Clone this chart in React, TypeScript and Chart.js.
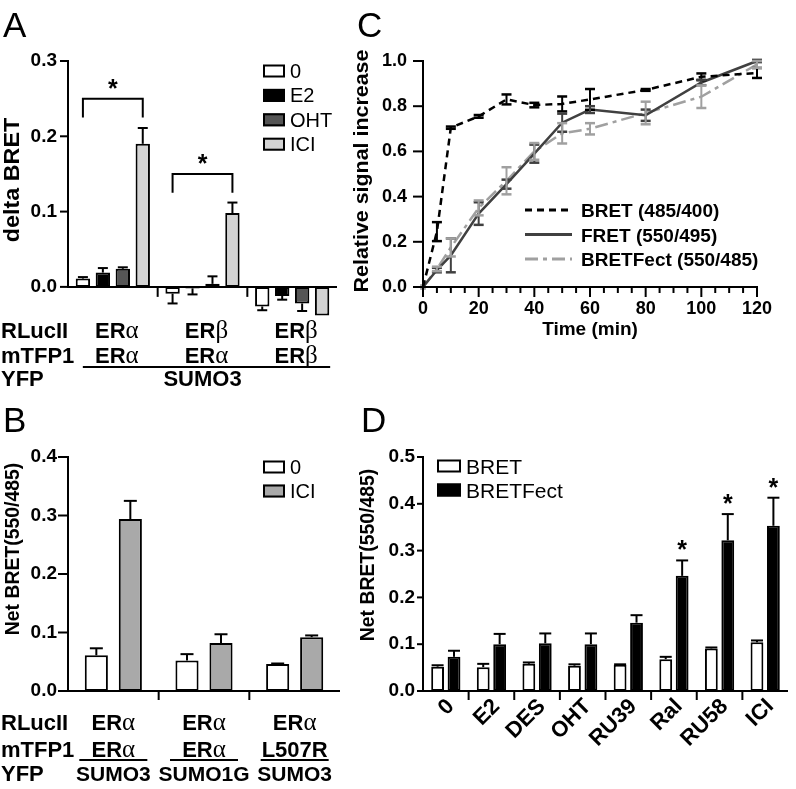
import React, { useEffect, useRef } from "react";
import { Chart, registerables } from "chart.js";

Chart.register(...registerables);

const SANS = "'Liberation Sans', Arial, Helvetica, sans-serif";
const SERIF = "'Liberation Serif', 'Times New Roman', serif";

// ---------------- Panel A data ----------------
const aCategories = ["ERα/ERα", "ERβ/ERα", "ERβ/ERβ"];
const aSeriesNames = ["0", "E2", "OHT", "ICI"];
const aValues0 = [0.011, -0.009, -0.026];
const aErrors0 = [0.002, 0.013, 0.005];
const aValuesE2 = [0.019, -0.002, -0.012];
const aErrorsE2 = [0.006, 0.008, 0.005];
const aValuesOHT = [0.024, 0.004, -0.022];
const aErrorsOHT = [0.002, 0.01, 0.01];
const aValuesICI = [0.19, 0.098, -0.038];
const aErrorsICI = [0.021, 0.014, 0.0];
const aRLucII = ["ERα", "ERβ", "ERβ"];
const aMTFP1 = ["ERα", "ERα", "ERβ"];
const aYFP = "SUMO3";
const aBracketGroups = [0, 1];
const aBracketLevels = [0.25, 0.15];
const aRowLabels = ["RLucII", "mTFP1", "YFP"];

// ---------------- Panel B data ----------------
const bCategories = ["SUMO3", "SUMO1G", "SUMO3 L507R"];
const bSeriesNames = ["0", "ICI"];
const bValues0 = [0.061, 0.052, 0.046];
const bErrors0 = [0.012, 0.011, 0.001];
const bValuesICI = [0.294, 0.082, 0.092];
const bErrorsICI = [0.031, 0.015, 0.003];
const bRLucII = ["ERα", "ERα", "ERα"];
const bMTFP1 = ["ERα", "ERα", "L507R"];
const bYFP = ["SUMO3", "SUMO1G", "SUMO3"];

// ---------------- Panel C data ----------------
const cTime = [0, 5, 10, 20, 30, 40, 50, 60, 80, 100, 120];
const cBRET = [0, 0.245, 0.705, 0.755, 0.83, 0.805, 0.81, 0.83, 0.872, 0.93, 0.947];
const cBRETErr = [0, 0.042, 0.005, 0.006, 0.022, 0.01, 0.033, 0.046, 0.004, 0.015, 0.022];
const cFRET = [0, 0.075, 0.14, 0.325, 0.455, 0.59, 0.727, 0.785, 0.76, 0.905, 1.0];
const cFRETErr = [0, 0.01, 0.075, 0.05, 0.02, 0.04, 0.04, 0.015, 0.025, 0.012, 0.005];
const cFect = [0, 0.08, 0.175, 0.35, 0.47, 0.6, 0.68, 0.7, 0.77, 0.842, 0.985];
const cFectErr = [0, 0.01, 0.04, 0.033, 0.06, 0.037, 0.045, 0.025, 0.05, 0.05, 0.015];
const cSeriesNames = ["BRET (485/400)", "FRET (550/495)", "BRETFect (550/485)"];

// ---------------- Panel D data ----------------
const dCategories = ["0", "E2", "DES", "OHT", "RU39", "Ral", "RU58", "ICI"];
const dSeriesNames = ["BRET", "BRETFect"];
const dBRET = [0.052, 0.051, 0.058, 0.054, 0.056, 0.068, 0.091, 0.104];
const dBRETErr = [0.003, 0.007, 0.003, 0.003, 0.001, 0.005, 0.002, 0.004];
const dFect = [0.073, 0.1, 0.102, 0.1, 0.146, 0.246, 0.322, 0.353];
const dFectErr = [0.013, 0.022, 0.021, 0.023, 0.016, 0.033, 0.056, 0.06];
const dStars = ["", "", "", "", "", "*", "*", "*"];

// ---------------- helpers ----------------
type Ctx = CanvasRenderingContext2D;

function seg(ctx: Ctx, pts: number[][], w = 2, color = "#000", dash: number[] = []) {
  ctx.save();
  ctx.beginPath();
  ctx.lineWidth = w;
  ctx.strokeStyle = color;
  ctx.setLineDash(dash);
  ctx.lineCap = "butt";
  ctx.lineJoin = "miter";
  pts.forEach((p, i) => (i ? ctx.lineTo(p[0], p[1]) : ctx.moveTo(p[0], p[1])));
  ctx.stroke();
  ctx.restore();
}

function txt(
  ctx: Ctx,
  s: string,
  x: number,
  y: number,
  font: string,
  align: CanvasTextAlign = "left",
  baseline: CanvasTextBaseline = "alphabetic",
  rot = 0,
  sx = 1
) {
  ctx.save();
  ctx.translate(x, y);
  if (rot) ctx.rotate(rot);
  if (sx !== 1) ctx.scale(sx, 1);
  ctx.font = font;
  ctx.textAlign = align;
  ctx.textBaseline = baseline;
  ctx.fillStyle = "#000";
  ctx.fillText(s, 0, 0);
  ctx.restore();
}

function greek(ctx: Ctx, s: string, cx: number, cy: number, size: number) {
  const parts: { t: string; g: boolean }[] = [];
  for (const ch of s) {
    const g = /[\u0370-\u03ff]/.test(ch);
    const last = parts[parts.length - 1];
    if (last && last.g === g) last.t += ch;
    else parts.push({ t: ch, g });
  }
  const fontOf = (g: boolean) => (g ? `${Math.round(size * 1.15)}px ${SERIF}` : `bold ${size}px ${SANS}`);
  let total = 0;
  const ws = parts.map((p) => {
    ctx.font = fontOf(p.g);
    const w = ctx.measureText(p.t).width;
    total += w;
    return w;
  });
  let x = cx - total / 2;
  const base = cy + size * 0.36;
  ctx.save();
  ctx.fillStyle = "#000";
  ctx.textAlign = "left";
  ctx.textBaseline = "alphabetic";
  parts.forEach((p, i) => {
    ctx.font = fontOf(p.g);
    ctx.fillText(p.t, x, base);
    x += ws[i];
  });
  ctx.restore();
}

function legendBox(ctx: Ctx, x: number, cy: number, w: number, h: number, fill: string) {
  ctx.save();
  ctx.fillStyle = fill;
  ctx.fillRect(x, cy - h / 2, w, h);
  ctx.lineWidth = 2;
  ctx.strokeStyle = "#000";
  ctx.strokeRect(x + 1, cy - h / 2 + 1, w - 2, h - 2);
  ctx.restore();
}

function barErrors(chart: any, errs: number[][], cap: number) {
  const ctx = chart.ctx;
  const ys = chart.scales.y;
  chart.data.datasets.forEach((ds: any, di: number) => {
    const meta = chart.getDatasetMeta(di);
    meta.data.forEach((el: any, j: number) => {
      const v = ds.data[j] as number;
      const e = errs[di][j];
      if (!e) return;
      const s = v < 0 ? -1 : 1;
      const yEnd = ys.getPixelForValue(v + s * e);
      seg(ctx, [[el.x, el.y], [el.x, yEnd]], 2);
      seg(ctx, [[el.x - cap / 2, yEnd], [el.x + cap / 2, yEnd]], 2);
    });
  });
}

function yAxisCfg(min: number, max: number, step: number, size: number, padding: number, width: number) {
  return {
    min,
    max,
    afterFit: (s: any) => {
      s.width = width;
    },
    afterBuildTicks: (s: any) => {
      s.ticks = s.ticks.filter((t: any) => t.value >= -1e-9);
    },
    ticks: {
      stepSize: step,
      padding,
      color: "#000",
      font: { family: SANS, size, weight: "bold" },
      callback: (v: any) => Number(v).toFixed(1),
    },
    grid: { display: false, drawTicks: false },
    border: { display: false },
  };
}

function drawBarAxes(chart: any, tickLen: number, sepLen: number) {
  const ctx = chart.ctx;
  const xs = chart.scales.x;
  const ys = chart.scales.y;
  const ca = chart.chartArea;
  const y0 = ys.getPixelForValue(0);
  seg(ctx, [[ca.left, ys.getPixelForValue(ys.max) - 1], [ca.left, y0 + 1]], 2);
  ys.ticks.forEach((t: any) => {
    const yy = ys.getPixelForValue(t.value);
    seg(ctx, [[ca.left - tickLen, yy], [ca.left, yy]], 2);
  });
  seg(ctx, [[ca.left - 1, y0], [ca.right, y0]], 2);
  const n = chart.data.labels.length;
  for (let i = 1; i < n; i++) {
    const xx = (xs.getPixelForValue(i - 1) + xs.getPixelForValue(i)) / 2;
    seg(ctx, [[xx, y0 + 1], [xx, y0 + sepLen]], 2);
  }
  return { xs, ys, ca, y0 };
}

// ---------------- Panel A ----------------
function makeA(): any {
  const errs = [aErrors0, aErrorsE2, aErrorsOHT, aErrorsICI];
  const fills = ["#ffffff", "#000000", "#555555", "#d3d3d3"];
  const vals = [aValues0, aValuesE2, aValuesOHT, aValuesICI];
  return {
    type: "bar",
    data: {
      labels: aCategories,
      datasets: vals.map((v, i) => ({
        label: aSeriesNames[i],
        data: v,
        backgroundColor: fills[i],
        borderColor: "#000",
        borderWidth: 2,
        borderSkipped: false,
        categoryPercentage: 0.89,
        barPercentage: 0.72,
      })),
    },
    options: {
      responsive: false,
      animation: false,
      events: [],
      layout: { padding: { left: 8, top: 61, right: 8, bottom: 83 } },
      plugins: { legend: { display: false }, tooltip: { enabled: false } },
      scales: {
        x: { display: false },
        y: yAxisCfg(-0.04, 0.3, 0.1, 19, 11, 60),
      },
    },
    plugins: [
      {
        id: "aDecor",
        afterDatasetsDraw(chart: any) {
          barErrors(chart, errs, 10);
        },
        afterDraw(chart: any) {
          const ctx = chart.ctx;
          const { xs, ys } = drawBarAxes(chart, 8, 10);
          aBracketGroups.forEach((g, bi) => {
            const xL = chart.getDatasetMeta(0).data[g].x;
            const xR = chart.getDatasetMeta(3).data[g].x;
            const yT = ys.getPixelForValue(aBracketLevels[bi]);
            const yL = ys.getPixelForValue(aBracketLevels[bi] - 0.025);
            seg(ctx, [[xL, yL], [xL, yT], [xR, yT], [xR, yL]], 2);
            txt(ctx, "*", (xL + xR) / 2, yT - 2, `bold 25px ${SANS}`, "center");
          });
          aSeriesNames.forEach((nm, k) => {
            const cy = 71 + k * 24.4;
            legendBox(ctx, 263, cy, 22, 13, fills[k]);
            txt(ctx, nm, 290, cy + 7, `20px ${SANS}`);
          });
          txt(ctx, "delta BRET", 13, 180, `bold 22px ${SANS}`, "center", "middle", -Math.PI / 2, 1.06);
          const rows = [330, 355, 378];
          aRowLabels.forEach((r, k) => txt(ctx, r, 1, rows[k] + 7.5, `bold 22px ${SANS}`));
          aCategories.forEach((_, i) => {
            const cx = xs.getPixelForValue(i) + 4;
            greek(ctx, aRLucII[i], cx, rows[0], 22);
            greek(ctx, aMTFP1[i], cx, rows[1], 22);
          });
          seg(ctx, [[xs.getPixelForValue(0) - 30, 367], [xs.getPixelForValue(2) + 38, 367]], 2);
          txt(ctx, aYFP, xs.getPixelForValue(1), rows[2] + 7.5, `bold 22px ${SANS}`, "center");
          txt(ctx, "A", 3, 37, `35px ${SANS}`);
        },
      },
    ],
  };
}

// ---------------- Panel B ----------------
function makeB(): any {
  const errs = [bErrors0, bErrorsICI];
  const fills = ["#ffffff", "#a9a9a9"];
  const vals = [bValues0, bValuesICI];
  return {
    type: "bar",
    data: {
      labels: bCategories,
      datasets: vals.map((v, i) => ({
        label: bSeriesNames[i],
        data: v,
        backgroundColor: fills[i],
        borderColor: "#000",
        borderWidth: 2,
        borderSkipped: false,
        categoryPercentage: 0.75,
        barPercentage: 0.68,
      })),
    },
    options: {
      responsive: false,
      animation: false,
      events: [],
      layout: { padding: { left: 8, top: 57, right: 5, bottom: 98 } },
      plugins: { legend: { display: false }, tooltip: { enabled: false } },
      scales: {
        x: { display: false },
        y: yAxisCfg(0, 0.4, 0.1, 19, 11, 60),
      },
    },
    plugins: [
      {
        id: "bDecor",
        afterDatasetsDraw(chart: any) {
          barErrors(chart, errs, 13);
        },
        afterDraw(chart: any) {
          const ctx = chart.ctx;
          const { xs } = drawBarAxes(chart, 10, 9);
          bSeriesNames.forEach((nm, k) => {
            const cy = 67 + k * 24;
            legendBox(ctx, 263, cy, 22, 13, fills[k]);
            txt(ctx, nm, 290, cy + 7, `20px ${SANS}`);
          });
          txt(ctx, "Net BRET(550/485)", 13, 149, `bold 20px ${SANS}`, "center", "middle", -Math.PI / 2, 0.97);
          const rows = [322, 349, 373];
          aRowLabels.forEach((r, k) => txt(ctx, r, 1, rows[k] + 7.5, `bold 22px ${SANS}`));
          bCategories.forEach((_, i) => {
            const cx = xs.getPixelForValue(i);
            greek(ctx, bRLucII[i], cx, rows[0], 22);
            greek(ctx, bMTFP1[i], cx, rows[1], 22);
            seg(ctx, [[cx - 34, 360], [cx + 34, 360]], 2);
            txt(ctx, bYFP[i], cx, rows[2] + 7.5, `bold 21px ${SANS}`, "center");
          });
          txt(ctx, "B", 3, 32, `35px ${SANS}`);
        },
      },
    ],
  };
}

// ---------------- Panel C ----------------
function makeC(): any {
  const colors = ["#000000", "#404040", "#a0a0a0"];
  const dashes = [[7, 5], [], [13, 5, 4, 5]];
  const series = [cBRET, cFRET, cFect];
  const errs = [cBRETErr, cFRETErr, cFectErr];
  return {
    type: "line",
    data: {
      datasets: series.map((s, i) => ({
        label: cSeriesNames[i],
        data: cTime.map((t, j) => ({ x: t, y: s[j] })),
        borderColor: colors[i],
        backgroundColor: colors[i],
        borderWidth: 2.5,
        borderDash: dashes[i],
        pointStyle: "rect",
        pointRadius: (c: any) => (i === 2 && c.dataIndex === 0 ? 4 : 0),
        pointBorderWidth: 0,
        tension: 0,
        fill: false,
        clip: false,
      })),
    },
    options: {
      responsive: false,
      animation: false,
      events: [],
      layout: { padding: { left: 18, top: 61, right: 39, bottom: 113 } },
      plugins: { legend: { display: false }, tooltip: { enabled: false } },
      scales: {
        x: { type: "linear", display: false, min: 0, max: 120 },
        y: yAxisCfg(0, 1, 0.2, 18, 16, 60),
      },
    },
    plugins: [
      {
        id: "cDecor",
        afterDatasetsDraw(chart: any) {
          const ctx = chart.ctx;
          const ys = chart.scales.y;
          chart.data.datasets.forEach((ds: any, di: number) => {
            const meta = chart.getDatasetMeta(di);
            meta.data.forEach((el: any, j: number) => {
              const e = errs[di][j];
              if (!e) return;
              const v = series[di][j];
              const yT = ys.getPixelForValue(v + e);
              const yB = ys.getPixelForValue(v - e);
              seg(ctx, [[el.x, yT], [el.x, yB]], 2, colors[di]);
              seg(ctx, [[el.x - 5, yT], [el.x + 5, yT]], 2.5, colors[di]);
              seg(ctx, [[el.x - 5, yB], [el.x + 5, yB]], 2.5, colors[di]);
            });
          });
        },
        afterDraw(chart: any) {
          const ctx = chart.ctx;
          const xs = chart.scales.x;
          const ys = chart.scales.y;
          const ca = chart.chartArea;
          const y0 = ys.getPixelForValue(0);
          const x0 = xs.getPixelForValue(0);
          seg(ctx, [[x0, ys.getPixelForValue(1) - 1], [x0, y0 + 1]], 2);
          ys.ticks.forEach((t: any) => {
            const yy = ys.getPixelForValue(t.value);
            seg(ctx, [[x0 - 10, yy], [x0, yy]], 2);
          });
          seg(ctx, [[x0 - 1, y0], [xs.getPixelForValue(120) + 1, y0]], 2);
          for (let t = 0; t <= 120; t += 5) {
            const xx = xs.getPixelForValue(t);
            const major = t % 20 === 0;
            seg(ctx, [[xx, y0], [xx, y0 + (major ? 10 : 6)]], 2);
            if (major) txt(ctx, String(t), xx, y0 + 13, `bold 18px ${SANS}`, "center", "top");
          }
          txt(ctx, "Time (min)", (ca.left + ca.right) / 2, 335, `bold 19px ${SANS}`, "center");
          txt(ctx, "Relative signal increase", 17, 171, `bold 21px ${SANS}`, "center", "middle", -Math.PI / 2, 1.02);
          cSeriesNames.forEach((nm, k) => {
            const cy = 210 + k * 24.5;
            seg(ctx, [[180, cy], [227, cy]], 3, colors[k], dashes[k]);
            txt(ctx, nm, 236, cy + 7, `bold 19px ${SANS}`);
          });
          txt(ctx, "C", 12, 37, `35px ${SANS}`);
        },
      },
    ],
  };
}

// ---------------- Panel D ----------------
function makeD(): any {
  const errs = [dBRETErr, dFectErr];
  const fills = ["#ffffff", "#000000"];
  const vals = [dBRET, dFect];
  return {
    type: "bar",
    data: {
      labels: dCategories,
      datasets: vals.map((v, i) => ({
        label: dSeriesNames[i],
        data: v,
        backgroundColor: fills[i],
        borderColor: "#000",
        borderWidth: 2,
        borderSkipped: false,
        categoryPercentage: 0.72,
        barPercentage: 0.78,
      })),
    },
    options: {
      responsive: false,
      animation: false,
      events: [],
      layout: { padding: { left: 18, top: 57, right: 8, bottom: 98 } },
      plugins: { legend: { display: false }, tooltip: { enabled: false } },
      scales: {
        x: { display: false },
        y: yAxisCfg(0, 0.5, 0.1, 19, 8, 60),
      },
    },
    plugins: [
      {
        id: "dDecor",
        afterDatasetsDraw(chart: any) {
          barErrors(chart, errs, 12);
        },
        afterDraw(chart: any) {
          const ctx = chart.ctx;
          const { xs, ys, y0 } = drawBarAxes(chart, 6, 9);
          const metaF = chart.getDatasetMeta(1);
          dStars.forEach((s, i) => {
            if (!s) return;
            const el = metaF.data[i];
            const yTop = ys.getPixelForValue(dFect[i] + dFectErr[i]);
            txt(ctx, s, el.x, yTop - 2, `bold 25px ${SANS}`, "center");
          });
          dCategories.forEach((c, i) => {
            const xx = xs.getPixelForValue(i);
            txt(ctx, c, xx + 5, y0 + 12, `bold 22px ${SANS}`, "right", "middle", -Math.PI / 4);
          });
          dSeriesNames.forEach((nm, k) => {
            const cy = 66 + k * 24;
            legendBox(ctx, 92, cy, 24, 13, fills[k]);
            txt(ctx, nm, 121, cy + 7.5, `21px ${SANS}`);
          });
          txt(ctx, "Net BRET(550/485)", 23, 155, `bold 20px ${SANS}`, "center", "middle", -Math.PI / 2, 0.97);
          txt(ctx, "D", 16, 32, `35px ${SANS}`);
        },
      },
    ],
  };
}

function ChartCanvas(props: { left: number; top: number; width: number; height: number; make: () => any }) {
  const ref = useRef<HTMLCanvasElement>(null);
  useEffect(() => {
    const chart = new Chart(ref.current as HTMLCanvasElement, props.make());
    return () => chart.destroy();
  }, []);
  return (
    <canvas
      ref={ref}
      width={props.width}
      height={props.height}
      style={{ position: "absolute", left: props.left, top: props.top, width: props.width, height: props.height }}
    />
  );
}

export default function App() {
  return (
    <div style={{ position: "absolute", left: 0, top: 0, width: 796, height: 789, background: "#ffffff", overflow: "hidden" }}>
      <ChartCanvas left={0} top={0} width={345} height={400} make={makeA} />
      <ChartCanvas left={345} top={0} width={451} height={400} make={makeC} />
      <ChartCanvas left={0} top={400} width={345} height={389} make={makeB} />
      <ChartCanvas left={345} top={400} width={451} height={389} make={makeD} />
    </div>
  );
}
